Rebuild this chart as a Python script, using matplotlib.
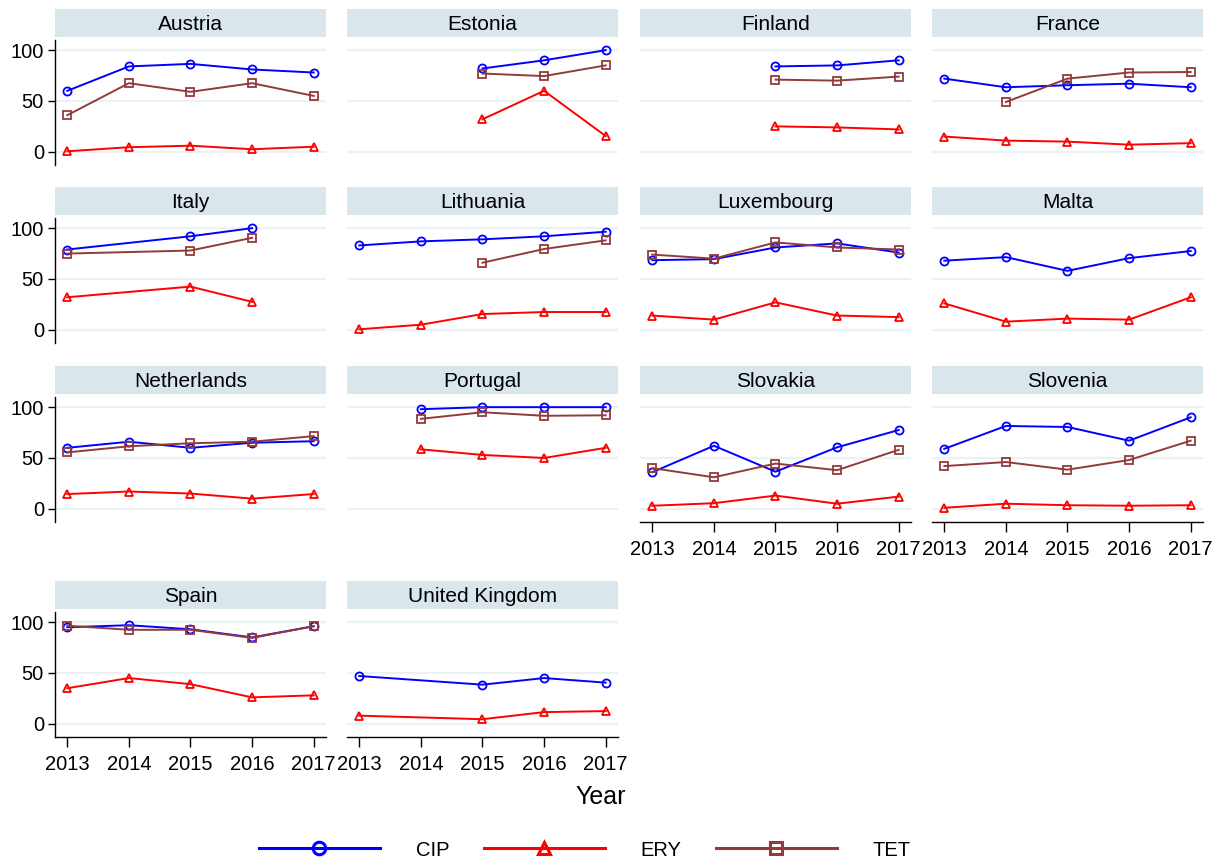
import matplotlib

matplotlib.use("Agg")
import matplotlib.pyplot as plt
import numpy as np
from matplotlib.lines import Line2D

plt.rcParams["font.family"] = ["Liberation Sans", "DejaVu Sans"]

nan = np.nan

years = [2013, 2014, 2015, 2016, 2017]

countries = [
    "Austria", "Estonia", "Finland", "France",
    "Italy", "Lithuania", "Luxembourg", "Malta",
    "Netherlands", "Portugal", "Slovakia", "Slovenia",
    "Spain", "United Kingdom",
]

# resistance (%) per country, one row per country in the order above
cip = [
    [60, 84, 86.5, 81, 78],
    [nan, nan, 82, 90, 100],
    [nan, nan, 84, 85, 90],
    [72, 63.5, 65.5, 67, 63.5],
    [79, nan, 92, 100, nan],
    [83, 87, 89, 92, 96.5],
    [68.5, 69.5, 81, 85, 76],
    [68, 71.5, 58, 70.5, 77.5],
    [60, 66, 60, 65, 66.5],
    [nan, 98, 100, 100, 100],
    [36, 62, 36.5, 60.5, 77.5],
    [59, 81.5, 80.5, 67, 90],
    [95, 97, 93, 85, 96],
    [47, nan, 38.5, 45, 40.5],
]

ery = [
    [0.5, 4.5, 6, 2.5, 5],
    [nan, nan, 32, 60, 15.5],
    [nan, nan, 25, 24, 22],
    [15, 11, 10, 7, 8.5],
    [32, nan, 42.5, 27.5, nan],
    [0.5, 5, 15.5, 17.5, 17.5],
    [14, 10, 27, 14, 12.5],
    [26, 8, 11, 10, 32],
    [14.5, 17, 15, 10, 14.5],
    [nan, 58.5, 53, 50, 60],
    [3, 5.5, 13, 5, 12],
    [1, 5, 3.5, 3, 3.5],
    [35, 45, 39, 26, 28],
    [8, nan, 4.5, 11.5, 12.5],
]

tet = [
    [36, 67.5, 59, 67.5, 55],
    [nan, nan, 77, 74.5, 85],
    [nan, nan, 71, 70, 74],
    [nan, 49, 72, 78, 78.5],
    [75, nan, 78, 90.5, nan],
    [nan, nan, 66, 79.5, 88],
    [74, 70, 86, 81, 79],
    [nan, nan, nan, nan, nan],
    [55.5, 61.5, 64.5, 66, 71.5],
    [nan, 88.5, 95, 91.5, 92],
    [40, 31, 44.5, 38, 58],
    [42, 46, 38.5, 48, 67],
    [96.5, 92.5, 92.5, 84.5, 96],
    [nan, nan, nan, nan, nan],
]

series = [
    ("CIP", cip, "#0000ff", "o"),
    ("ERY", ery, "#ff0000", "^"),
    ("TET", tet, "#933a3a", "s"),
]

W, H = 1215, 861
COL_LEFT = [55, 347, 640, 932]
COL_WIDTH = 271
ROW_TOP = [40, 218, 397, 612]
PANEL_H = 125
STRIP_H = 28
STRIP_GAP = 3
GRID_COLOR = "#eaf2f3"
STRIP_COLOR = "#d9e6eb"


def frac_box(left, top, width, height):
    return [left / W, 1 - (top + height) / H, width / W, height / H]


def draw_panel(fig, idx):
    row, col = divmod(idx, 4)
    left = COL_LEFT[col]
    top = ROW_TOP[row]

    ax = fig.add_axes(frac_box(left, top, COL_WIDTH, PANEL_H))
    strip = fig.add_axes(
        frac_box(left, top - STRIP_GAP - STRIP_H, COL_WIDTH, STRIP_H)
    )
    strip.set_facecolor(STRIP_COLOR)
    strip.set_xticks([])
    strip.set_yticks([])
    for s in strip.spines.values():
        s.set_visible(False)
    strip.text(0.5, 0.45, countries[idx], ha="center", va="center",
               fontsize=15, transform=strip.transAxes)

    for y in [0, 50, 100]:
        ax.axhline(y, color=GRID_COLOR, lw=1.6, zorder=0)

    x = np.array(years)
    for name, data, color, marker in series:
        vals = np.array(data[idx], dtype=float)
        ok = ~np.isnan(vals)
        if ok.any():
            ax.plot(x[ok], vals[ok], color=color, lw=1.4, marker=marker,
                    markersize=5.8, markerfacecolor="none",
                    markeredgecolor=color, markeredgewidth=1.3, zorder=3)

    ax.set_xlim(2012.8, 2017.2)
    ax.set_ylim(-13, 110)
    for s in ["top", "right"]:
        ax.spines[s].set_visible(False)

    if col == 0:
        ax.set_yticks([0, 50, 100])
        ax.tick_params(axis="y", labelsize=14.5, length=5, width=1.0, pad=3)
        ax.spines["left"].set_linewidth(1.0)
    else:
        ax.set_yticks([])
        ax.spines["left"].set_visible(False)

    bottom_panel = idx >= 10
    if bottom_panel:
        ax.set_xticks(years)
        ax.set_xticklabels([str(y) for y in years])
        ax.tick_params(axis="x", labelsize=14.5, length=7, width=1.0, pad=6)
        ax.spines["bottom"].set_linewidth(1.0)
    else:
        ax.set_xticks([])
        ax.spines["bottom"].set_visible(False)

    return ax


def main() -> None:
    fig = plt.figure(figsize=(W / 100, H / 100), dpi=100)

    for idx in range(len(countries)):
        draw_panel(fig, idx)

    fig.text(601 / W, 1 - 797 / H, "Year", ha="center", va="center",
             fontsize=18)

    handles = [
        Line2D([], [], color=color, lw=2.2, marker=marker, markersize=9,
               markerfacecolor="none", markeredgecolor=color,
               markeredgewidth=2.2)
        for _, _, color, marker in series
    ]
    labels = [name for name, _, _, _ in series]
    fig.legend(handles, labels, loc="center", ncol=3, frameon=False,
               bbox_to_anchor=(585 / W, 1 - 850 / H), fontsize=14.5,
               handlelength=6.0, handletextpad=1.8, columnspacing=1.7)

    fig.savefig("out.png", dpi=100, facecolor="white")


if __name__ == "__main__":
    main()
